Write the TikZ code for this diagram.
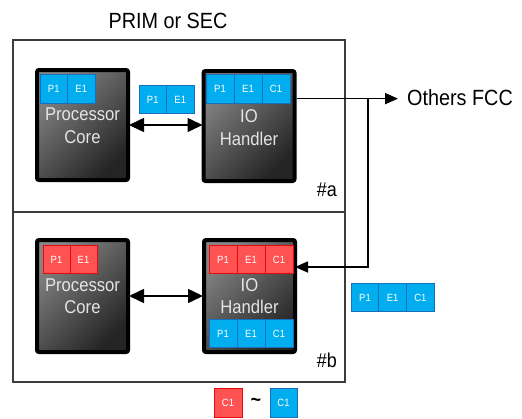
\documentclass[tikz,border=0pt]{standalone}
\usepackage{fontspec}
\setmainfont[FakeStretch=0.9]{Liberation Sans}
\usetikzlibrary{arrows.meta,calc}
\definecolor{cblue}{RGB}{0,174,239}
\definecolor{cblueD}{RGB}{25,110,190}
\definecolor{cred}{RGB}{255,82,82}
\definecolor{credD}{RGB}{232,10,10}
\definecolor{frameC}{RGB}{60,60,60}
\tikzset{
  section/.style={draw=frameC, line width=1.1pt, inner sep=0pt, minimum width=332pt},
  unit/.style={draw=black, line width=4pt, rounded corners=2pt, inner sep=0pt,
    minimum width=91pt, top color=black!48, middle color=black!78, bottom color=black!86, shading angle=45},
  unittext/.style={text=white!90!black, font=\fontsize{18.5}{22}\selectfont, inner sep=0pt, anchor=base},
  chip/.style={minimum width=27.5pt, minimum height=28.5pt, inner sep=0pt, line width=0.8pt,
    text=white, font=\fontsize{10.5}{12}\selectfont},
  bchip/.style={chip, fill=cblue, draw=cblueD},
  rchip/.style={chip, fill=cred, draw=credD},
  biarrow/.style={line width=1.6pt, {Triangle[length=15pt,width=14pt]}-{Triangle[length=15pt,width=14pt]}},
  conn/.style={line width=1.6pt, -{Triangle[length=13pt,width=11pt]}},
  bigtext/.style={font=\fontsize{22}{26}\selectfont, inner sep=0pt}
}
\begin{document}
\begin{tikzpicture}[x=1pt,y=-1pt]
\useasboundingbox (0,0) rectangle (522,418);
% title
\node[bigtext, anchor=base] (title) at (168,28.3) {PRIM or SEC};
% sections
\node[section, minimum height=172pt] (secA) at (179,126) {};
\node[section, minimum height=170pt] (secB) at (179,297) {};
\node[font=\fontsize{20}{24}\selectfont, inner sep=0pt, anchor=base east] (lblA) at (337,196) {\#a};
\node[font=\fontsize{20}{24}\selectfont, inner sep=0pt, anchor=base east] (lblB) at (337,367) {\#b};
% units top
\node[unit, minimum height=110pt] (pc1) at (82.5,125) {};
\node[unit, minimum height=110pt] (io1) at (249,126) {};
% units bottom
\node[unit, minimum height=112pt] (pc2) at (82.5,296) {};
\node[unit, minimum height=112pt] (io2) at (249.5,296) {};
% unit texts
\node[unittext] (pc1a) at (82.5,120) {Processor};
\node[unittext] (pc1b) at (82.5,143) {Core};
\node[unittext] (io1a) at (249,122) {IO};
\node[unittext] (io1b) at (249,145) {Handler};
\node[unittext] (pc2a) at (82.5,291) {Processor};
\node[unittext] (pc2b) at (82.5,313.5) {Core};
\node[unittext] (io2a) at (249.5,291) {IO};
\node[unittext] (io2b) at (249.5,313.5) {Handler};
% chips top
\node[bchip] (c1p) at (53.75,89) {P1};
\node[bchip] (c1e) at (81.25,89) {E1};
\node[bchip] (cmp) at (152.75,99.5) {P1};
\node[bchip] (cme) at (180.25,99.5) {E1};
\node[bchip, minimum width=28pt] (i1p) at (220,89) {P1};
\node[bchip, minimum width=28pt] (i1e) at (248,89) {E1};
\node[bchip, minimum width=28pt] (i1c) at (276,89) {C1};
% chips bottom
\node[rchip, minimum width=27pt] (c2p) at (56.5,259.5) {P1};
\node[rchip, minimum width=27pt] (c2e) at (83.5,259.5) {E1};
\node[rchip, minimum width=28pt] (i2p) at (223,259.5) {P1};
\node[rchip, minimum width=28pt] (i2e) at (251,259.5) {E1};
\node[rchip, minimum width=28pt] (i2c) at (279,259.5) {C1};
\node[bchip, minimum width=28pt] (j2p) at (223,333.5) {P1};
\node[bchip, minimum width=28pt] (j2e) at (251,333.5) {E1};
\node[bchip, minimum width=28pt] (j2c) at (279,333.5) {C1};
% right chips
\node[bchip, minimum width=27.7pt] (rp) at (365,297.5) {P1};
\node[bchip, minimum width=27.7pt] (re) at (392.7,297.5) {E1};
\node[bchip, minimum width=27.7pt] (rc) at (420.4,297.5) {C1};
% legend
\node[rchip, minimum width=28pt, minimum height=29pt] (lr) at (228,402.5) {C1};
\node[font=\fontsize{20}{22}\selectfont\bfseries, inner sep=0pt] (tilde) at (256,402) {\char`\~};
\node[bchip, minimum width=27pt, minimum height=29pt] (lb) at (283.5,402.5) {C1};
% others
\node[font=\fontsize{22}{26}\selectfont, anchor=base west, inner sep=0pt] (others) at (407,105) {Others FCC};
% connectors
\draw[biarrow, shorten <=-1pt, shorten >=-1pt] (pc1.east) -- (pc1.east -| io1.west);
\draw[biarrow, shorten <=-1pt, shorten >=-1pt] (pc2.east) -- (pc2.east -| io2.west);
\coordinate (ioOut) at ($(io1.north east)!0.26!(io1.south east)$);
\coordinate (jn) at (368,99);
\coordinate (io2In) at ($(io2.north east)!0.25!(io2.south east)$);
\draw[conn, shorten >=9pt] (ioOut) -- (ioOut -| others.west);
\draw[conn, shorten >=-2pt] (ioOut -| jn) |- (io2In);
\end{tikzpicture}
\end{document}
